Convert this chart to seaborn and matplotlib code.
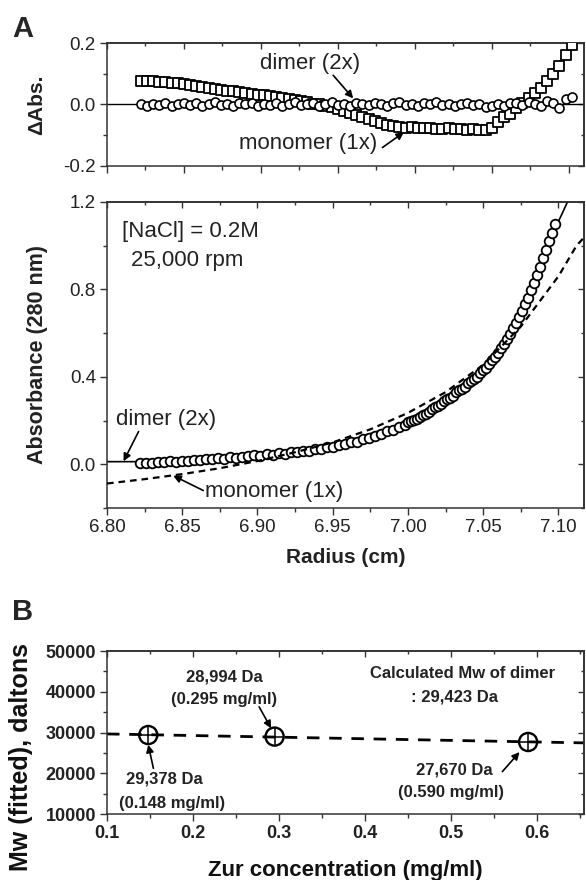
import numpy as np
import matplotlib
matplotlib.use("Agg")
import matplotlib.pyplot as plt
import seaborn as sns
from matplotlib.ticker import MultipleLocator, FormatStrFormatter

sns.set_theme(style="ticks")
plt.rcParams["font.family"] = ["Liberation Sans", "DejaVu Sans"]
plt.rcParams["axes.unicode_minus"] = False

# ---------------- data ----------------
RADIUS = [6.822, 6.826, 6.830, 6.834, 6.838, 6.842, 6.846, 6.850, 6.854, 6.858,
          6.862, 6.866, 6.870, 6.874, 6.878, 6.882, 6.886, 6.890, 6.894, 6.898,
          6.902, 6.906, 6.910, 6.914, 6.918, 6.922, 6.926, 6.930, 6.934, 6.938,
          6.942, 6.946, 6.950, 6.954, 6.958, 6.962, 6.966, 6.970, 6.974, 6.978,
          6.982, 6.986, 6.990, 6.994, 6.998, 7.002, 7.006, 7.010, 7.014, 7.018,
          7.022, 7.026, 7.030, 7.034, 7.038, 7.042, 7.046, 7.050, 7.054, 7.058,
          7.062, 7.066, 7.070, 7.074, 7.078, 7.082, 7.086, 7.090, 7.094, 7.098,
          7.102]

# residuals, dimer (2x) model - circles
RES_DIMER = [0.000, -0.004, 0.003, -0.002, 0.005, -0.006, 0.002, 0.006, -0.003, 0.004,
             -0.005, 0.001, 0.007, -0.002, 0.003, -0.006, 0.004, 0.000, 0.006, -0.004,
             0.002, -0.001, 0.005, -0.005, 0.003, 0.007, -0.002, 0.001, 0.004, -0.006,
             0.003, 0.008, -0.003, 0.002, -0.004, 0.005, 0.001, -0.002, 0.006, 0.003,
             -0.005, 0.004, 0.009, -0.001, 0.002, -0.004, 0.005, 0.000, 0.007, -0.003,
             0.002, -0.006, 0.003, 0.005, -0.002, 0.001, -0.007, -0.004, 0.003, -0.005,
             0.004, 0.006, -0.002, 0.008, 0.002, -0.004, 0.010, 0.005, -0.012, 0.018,
             0.025]

# residuals, monomer (1x) model - squares
RES_MONOMER = [0.078, 0.076, 0.077, 0.074, 0.073, 0.070, 0.069, 0.066, 0.063, 0.060,
               0.057, 0.055, 0.051, 0.048, 0.045, 0.043, 0.040, 0.037, 0.035, 0.032,
               0.030, 0.027, 0.025, 0.022, 0.018, 0.014, 0.011, 0.007, 0.003, 0.000,
               -0.004, -0.009, -0.015, -0.021, -0.028, -0.034, -0.040, -0.047, -0.054, -0.061,
               -0.066, -0.070, -0.072, -0.075, -0.074, -0.077, -0.078, -0.076, -0.079, -0.080,
               -0.078, -0.081, -0.080, -0.082, -0.081, -0.083, -0.082, -0.078, -0.058, -0.042,
               -0.030, -0.012, 0.004, 0.020, 0.038, 0.055, 0.075, 0.098, 0.125, 0.160,
               0.195]

# measured absorbance scan - circles
ABS_RADIUS = [6.822, 6.826, 6.830, 6.834, 6.838, 6.842, 6.846, 6.850, 6.854, 6.858,
              6.862, 6.866, 6.870, 6.874, 6.878, 6.882, 6.886, 6.890, 6.894, 6.898,
              6.902, 6.906, 6.910, 6.914, 6.918, 6.922, 6.926, 6.930, 6.934, 6.938,
              6.942, 6.946, 6.950, 6.954, 6.958, 6.962, 6.966, 6.970, 6.974, 6.978,
              6.982, 6.986, 6.990, 6.994, 6.998,
              7.000, 7.002, 7.004, 7.006, 7.008, 7.010, 7.012, 7.014, 7.016, 7.018,
              7.020, 7.022, 7.024, 7.026, 7.028, 7.030, 7.032, 7.034, 7.036, 7.038,
              7.040, 7.042, 7.044, 7.046, 7.048, 7.050, 7.052, 7.054, 7.056, 7.058,
              7.060, 7.062, 7.064, 7.066, 7.068, 7.070, 7.072, 7.074, 7.076, 7.078,
              7.080, 7.082, 7.084, 7.086, 7.088, 7.090, 7.092, 7.094, 7.096, 7.098]
ABSORBANCE = [0.005, 0.008, 0.006, 0.011, 0.010, 0.014, 0.012, 0.017, 0.016, 0.021,
              0.020, 0.025, 0.023, 0.028, 0.026, 0.032, 0.030, 0.035, 0.036, 0.041,
              0.040, 0.046, 0.044, 0.050, 0.049, 0.056, 0.055, 0.062, 0.063, 0.070,
              0.072, 0.079, 0.081, 0.089, 0.092, 0.101, 0.104, 0.114, 0.119, 0.131,
              0.140, 0.151, 0.158, 0.172, 0.181,
              0.192, 0.198, 0.203, 0.208, 0.218, 0.227, 0.231, 0.239, 0.251, 0.261,
              0.266, 0.275, 0.289, 0.298, 0.303, 0.312, 0.329, 0.338, 0.344, 0.352,
              0.370, 0.381, 0.388, 0.400, 0.419, 0.432, 0.441, 0.458, 0.476, 0.490,
              0.508, 0.532, 0.551, 0.575, 0.596, 0.622, 0.646, 0.675, 0.701, 0.732,
              0.762, 0.797, 0.830, 0.868, 0.903, 0.943, 0.980, 1.022, 1.060, 1.100]

DIMER_FIT_R = [6.800, 6.822, 6.850, 6.900, 6.950, 7.000, 7.030, 7.050, 7.070, 7.085, 7.095, 7.102, 7.110]
DIMER_FIT_A = [0.012, 0.012, 0.018, 0.042, 0.085, 0.196, 0.318, 0.430, 0.622, 0.830, 1.040, 1.140, 1.260]

MONO_FIT_R = [6.800, 6.825, 6.850, 6.875, 6.900, 6.925, 6.950, 6.975, 7.000, 7.025, 7.050, 7.075, 7.100, 7.112, 7.120]
MONO_FIT_A = [-0.088, -0.068, -0.045, -0.018, 0.015, 0.055, 0.100, 0.160, 0.235, 0.330, 0.455, 0.630, 0.860, 1.000, 1.060]

# panel B
ZUR_CONC = [0.148, 0.295, 0.590]
MW_FITTED = [29378, 28994, 27670]

# ---------------- figure ----------------
W, H = 586, 880
fig = plt.figure(figsize=(W / 100, H / 100), dpi=100)

def fbox(left, top, right, bottom):
    return [left / W, 1 - bottom / H, (right - left) / W, (bottom - top) / H]

ax_res = fig.add_axes(fbox(107, 43, 584, 166))
ax_abs = fig.add_axes(fbox(107, 202, 584, 508))
ax_b = fig.add_axes(fbox(107, 651, 584, 814))

SPINE = "#333333"

def style(ax, xmaj, xmin, ymaj, ymin, lab_size, bold=False):
    ax.set_facecolor("white")
    for s in ax.spines.values():
        s.set_visible(True)
        s.set_color(SPINE)
        s.set_linewidth(1.1)
    ax.xaxis.set_major_locator(MultipleLocator(xmaj))
    ax.xaxis.set_minor_locator(MultipleLocator(xmin))
    ax.yaxis.set_major_locator(MultipleLocator(ymaj))
    ax.yaxis.set_minor_locator(MultipleLocator(ymin))
    ax.tick_params(which="both", direction="out", color=SPINE, top=False, right=False)
    ax.tick_params(which="major", length=5, width=1.0, labelsize=lab_size, pad=3)
    ax.tick_params(which="minor", length=3, width=1.0)
    for lab in ax.get_xticklabels() + ax.get_yticklabels():
        lab.set_color("#222222")
        if bold:
            lab.set_fontweight("bold")
    sx = ax.secondary_xaxis("top")
    sx.xaxis.set_major_locator(MultipleLocator(xmaj))
    sx.xaxis.set_minor_locator(MultipleLocator(xmin))
    sx.tick_params(which="both", direction="in", color=SPINE, labeltop=False, width=1.0)
    sx.tick_params(which="major", length=4)
    sx.tick_params(which="minor", length=2.5)
    sx.spines["top"].set_color(SPINE)
    sy = ax.secondary_yaxis("right")
    sy.yaxis.set_major_locator(MultipleLocator(ymaj))
    sy.yaxis.set_minor_locator(MultipleLocator(ymin))
    sy.tick_params(which="both", direction="in", color=SPINE, labelright=False, width=1.0)
    sy.tick_params(which="major", length=4)
    sy.tick_params(which="minor", length=2.5)
    sy.spines["right"].set_color(SPINE)

ARROW = dict(arrowstyle="-|>", color="black", lw=1.2, mutation_scale=11, shrinkA=0, shrinkB=0)

# ---- panel A, residuals ----
ax = ax_res
ax.axhline(0, color="black", lw=1.0, zorder=1)
sns.scatterplot(x=RADIUS, y=RES_MONOMER, marker="s", s=55, color="white",
                edgecolor="black", linewidth=1.3, ax=ax, zorder=3, legend=False)
sns.scatterplot(x=RADIUS, y=RES_DIMER, marker="o", s=42, color="white",
                edgecolor="black", linewidth=1.2, ax=ax, zorder=4, legend=False)
ax.set_xlim(6.80, 7.110)
ax.set_ylim(-0.2, 0.2)
ax.set_xlabel("")
ax.tick_params(axis="x", labelbottom=False)
ax.yaxis.set_major_formatter(FormatStrFormatter("%.1f"))
style(ax, 0.05, 0.025, 0.2, 0.1, 13.5)
ax.set_ylabel("\u0394Abs.", fontsize=15, fontweight="bold", color="#222222")
ax.yaxis.set_label_coords(-0.128, 0.5)
ax.text(6.932, 0.134, "dimer (2x)", fontsize=16, ha="center", va="center", color="#222222")
ax.annotate("", xy=(6.960, 0.020), xytext=(6.947, 0.095), arrowprops=ARROW, zorder=6)
ax.text(6.931, -0.128, "monomer (1x)", fontsize=16, ha="center", va="center", color="#222222")
ax.annotate("", xy=(6.993, -0.090), xytext=(6.979, -0.140), arrowprops=ARROW, zorder=6)

# ---- panel A, absorbance ----
ax = ax_abs
sns.lineplot(x=DIMER_FIT_R, y=DIMER_FIT_A, color="black", lw=1.2, ax=ax,
             estimator=None, sort=False, zorder=2)
sns.scatterplot(x=ABS_RADIUS, y=ABSORBANCE, marker="o", s=48, color="white",
                edgecolor="black", linewidth=1.3, ax=ax, zorder=3, legend=False)
sns.lineplot(x=MONO_FIT_R, y=MONO_FIT_A, color="black", lw=1.6, ax=ax,
             estimator=None, sort=False, linestyle=(0, (3, 2.2)), zorder=4)
ax.set_xlim(6.80, 7.117)
ax.set_ylim(-0.2, 1.2)
ax.xaxis.set_major_formatter(FormatStrFormatter("%.2f"))
ax.yaxis.set_major_formatter(FormatStrFormatter("%.1f"))
style(ax, 0.05, 0.025, 0.4, 0.2, 13.5)
ax.set_xlabel("Radius (cm)", fontsize=15, fontweight="bold", color="#222222")
ax.xaxis.set_label_coords(0.5, -0.131)
ax.set_ylabel("Absorbance (280 nm)", fontsize=15.5, fontweight="bold", color="#222222")
ax.yaxis.set_label_coords(-0.124, 0.5)
ax.text(6.810, 1.063, "[NaCl] = 0.2M", fontsize=16, ha="left", va="center", color="#222222")
ax.text(6.816, 0.934, "25,000 rpm", fontsize=16, ha="left", va="center", color="#222222")
ax.text(6.839, 0.207, "dimer (2x)", fontsize=16, ha="center", va="center", color="#222222")
ax.annotate("", xy=(6.811, 0.014), xytext=(6.821, 0.150), arrowprops=ARROW, zorder=6)
ax.text(6.865, -0.124, "monomer (1x)", fontsize=16, ha="left", va="center", color="#222222")
ax.annotate("", xy=(6.844, -0.052), xytext=(6.864, -0.120), arrowprops=ARROW, zorder=6)

# ---- panel B ----
ax = ax_b
slope, icpt = np.polyfit(ZUR_CONC, MW_FITTED, 1)
fit_x = np.array([0.10, 0.66])
sns.lineplot(x=fit_x, y=slope * fit_x + icpt, color="black", lw=2.0, ax=ax,
             estimator=None, sort=False, linestyle=(0, (4.5, 3.5)), zorder=2)
sns.scatterplot(x=ZUR_CONC, y=MW_FITTED, marker="o", s=170, color="none",
                edgecolor="black", linewidth=1.7, ax=ax, zorder=4, legend=False)
sns.scatterplot(x=ZUR_CONC, y=MW_FITTED, marker="+", s=170, color="black",
                linewidth=1.1, ax=ax, zorder=5, legend=False)
ax.set_xlim(0.10, 0.655)
ax.set_ylim(10000, 50000)
ax.xaxis.set_major_formatter(FormatStrFormatter("%.1f"))
ax.yaxis.set_major_formatter(FormatStrFormatter("%d"))
style(ax, 0.1, 0.05, 10000, 5000, 13, bold=True)
ax.set_xlabel("Zur concentration (mg/ml)", fontsize=16, fontweight="bold", color="#111111")
ax.xaxis.set_label_coords(0.5, -0.28)
ax.set_ylabel("Mw (fitted), daltons", fontsize=18, fontweight="bold", color="#111111")
ax.yaxis.set_label_coords(-0.155, 0.35)
bk = dict(fontsize=12, fontweight="bold", ha="center", va="center", color="#222222")
ax.text(0.236, 43700, "28,994 Da", **bk)
ax.text(0.236, 38000, "(0.295 mg/ml)", **bk)
ax.annotate("", xy=(0.291, 31000), xytext=(0.277, 36300), arrowprops=ARROW, zorder=6)
ax.text(0.514, 44500, "Calculated Mw of dimer", **bk)
ax.text(0.504, 38700, ": 29,423 Da", **bk)
ax.text(0.167, 18600, "29,378 Da", **bk)
ax.text(0.176, 12600, "(0.148 mg/ml)", **bk)
ax.annotate("", xy=(0.148, 27000), xytext=(0.154, 21200), arrowprops=ARROW, zorder=6)
ax.text(0.504, 20900, "27,670 Da", **bk)
ax.text(0.500, 15200, "(0.590 mg/ml)", **bk)
ax.annotate("", xy=(0.580, 25200), xytext=(0.560, 20400), arrowprops=ARROW, zorder=6)

# panel letters
fig.text(12 / W, 1 - 29 / H, "A", fontsize=21, fontweight="bold", ha="left", va="center")
fig.text(12 / W, 1 - 612 / H, "B", fontsize=21, fontweight="bold", ha="left", va="center")

fig.savefig("out.png", dpi=100)
